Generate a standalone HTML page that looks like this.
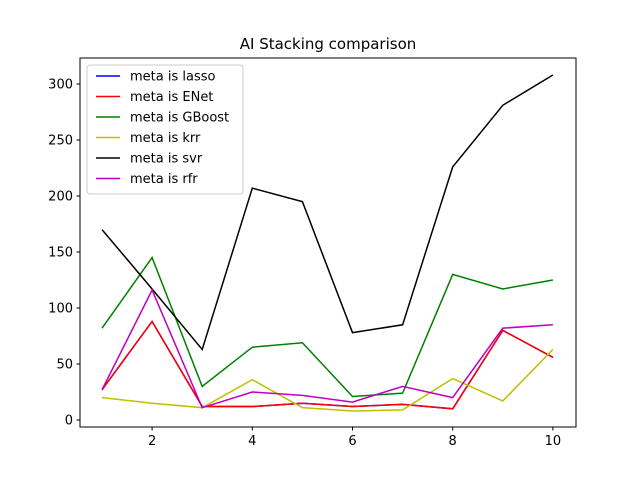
<!DOCTYPE html>
<html><head><meta charset="utf-8"><style>
body{margin:0;background:#fff}
svg text{font-family:"DejaVu Sans","Liberation Sans",sans-serif}
</style></head><body>
<svg id="chart" width="640" height="480" xmlns="http://www.w3.org/2000/svg">
<rect width="640" height="480" fill="#fff"/>
<text x="328" y="49" font-size="15" text-anchor="middle">AI Stacking comparison</text>
<g id="plot"></g>
<rect x="80" y="58" width="496" height="369" fill="none" stroke="#000" stroke-width="1"/>
<g id="legend"></g>
</svg>
<script>
const xs=[1,2,3,4,5,6,7,8,9,10];
const lasso=[27,88,12,12,15,12,14,10,80,56];
const enet=[27,88,12,12,15,12,14,10,80,56];
const gboost=[82,145,30,65,69,21,24,130,117,125];
const krr=[20,15,11,36,11,8,9,37,17,63];
const svr=[170,117,63,207,195,78,85,226,281,308];
const rfr=[27,116,11,25,22,16,30,20,82,85];
const xTicks=[2,4,6,8,10];
const yTicks=[0,50,100,150,200,250,300];
const names=["meta is lasso","meta is ENet","meta is GBoost","meta is krr","meta is svr","meta is rfr"];
const colors=["#0000ff","#ff0000","#008000","#bfbf00","#000000","#bf00bf"];
const series=[lasso,enet,gboost,krr,svr,rfr];
const X=v=>102+(v-1)*50.1;
const Y=v=>420-v*1.12;
const NS="http://www.w3.org/2000/svg";
const plot=document.getElementById('plot');
function mk(t,a,p){const e=document.createElementNS(NS,t);for(const k in a)e.setAttribute(k,a[k]);p.appendChild(e);return e;}
xTicks.forEach(t=>{
 const l=mk('line',{x1:X(t),x2:X(t),y1:427,y2:430.5,stroke:'#000'},plot);
 
 
 const tx=mk('text',{x:X(t),y:445,'font-size':'13','text-anchor':'middle'},plot);tx.textContent=t;
 
 
});
yTicks.forEach(t=>{
 const l=mk('line',{x1:76.5,x2:80,y1:Y(t),y2:Y(t),stroke:'#000'},plot);
 
 
 const tx=mk('text',{x:73,y:Y(t)+4.5,'font-size':'13','text-anchor':'end'},plot);tx.textContent=t;
 
 
});
series.forEach((s,i)=>{
 const p=mk('polyline',{points:s.map((v,j)=>X(xs[j])+','+Y(v)).join(' '),fill:'none',stroke:colors[i],'stroke-width':'1.5'},plot);
 
 
});
const lg=document.getElementById('legend');
const b=mk('rect',{x:87,y:65,width:156,height:129,rx:3,fill:'#fff','fill-opacity':'0.8',stroke:'#ccc'},lg);


names.forEach((n,i)=>{
 const y=76+i*20.5;
 const l=mk('line',{x1:96,x2:120,y1:y,y2:y,stroke:colors[i],'stroke-width':'1.5'},lg);
 
 
 const t=mk('text',{x:130,y:y+4.5,'font-size':'13'},lg);t.textContent=n;
 
 
});
</script>
</body></html>
